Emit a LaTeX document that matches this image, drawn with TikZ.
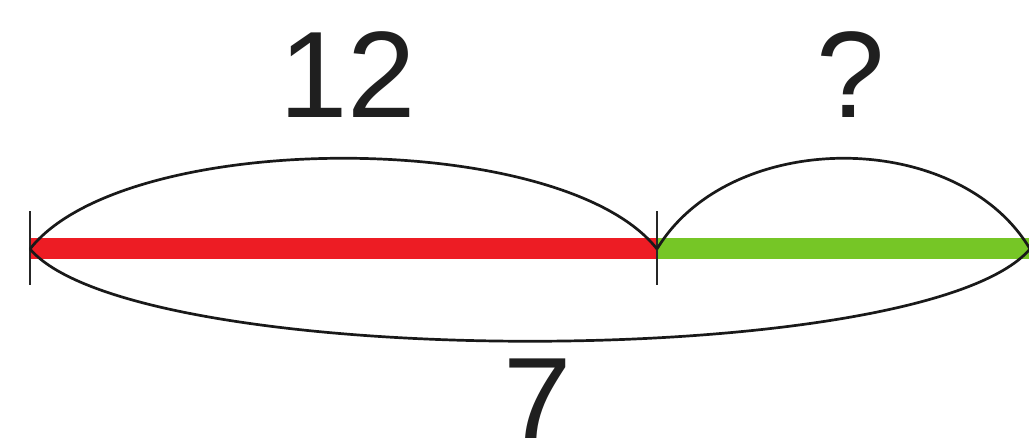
\documentclass[tikz,border=0pt]{standalone}
\usepackage{fontspec}
\setmainfont{Liberation Sans}
\definecolor{barred}{RGB}{237,28,36}
\definecolor{bargreen}{RGB}{118,198,38}
\begin{document}
\begin{tikzpicture}[x=1pt,y=-1pt,
  arcline/.style={draw=black!90,line width=2.7pt},
  tickline/.style={draw=black!85,line width=2.4pt},
  bar/.style={line width=21pt},
  numlabel/.style={anchor=base,inner sep=0pt,font=\fontsize{123pt}{123pt}\selectfont,text=black!88}]
\useasboundingbox (0,0) rectangle (1029,438);
\clip (0,0) rectangle (1029,438);
\fill[white] (0,0) rectangle (1029,438);
\coordinate (A) at (30,249);
\coordinate (M) at (657,249);
\coordinate (B) at (1030,249);
% bars
\draw[bar,barred] (A) -- (M);
\draw[bar,bargreen] (M) -- (B);
% ticks
\draw[tickline] ([yshift=-36]A) -- ([yshift=38]A);
\draw[tickline] ([yshift=-36]M) -- ([yshift=38]M);
% arcs
\draw[arcline] (A) .. controls (125,128) and (562,128) .. (M);
\draw[arcline] (M) .. controls (730,128) and (958,128) .. (B);
\draw[arcline] (A) .. controls (135,372) and (925,372) .. (B);
% labels
\node[numlabel] (twelve) at (348,118) {12};
\node[numlabel] (question) at (851,118) {?};
\node[numlabel] (seven) at (538,443) {7};
\end{tikzpicture}
\end{document}
